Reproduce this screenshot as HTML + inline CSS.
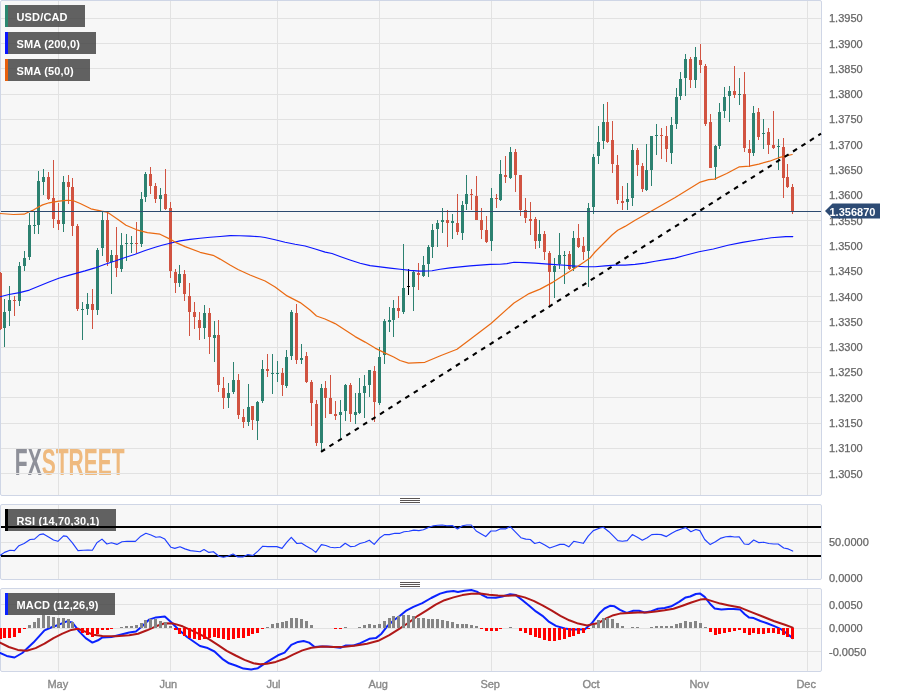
<!DOCTYPE html><html><head><meta charset="utf-8"><style>
html,body{margin:0;padding:0;background:#fff;width:898px;height:697px;overflow:hidden}
svg{display:block;will-change:transform}
text{font-family:"Liberation Sans",sans-serif}
</style></head><body>
<svg width="898" height="697" viewBox="0 0 898 697">
<rect x="0.5" y="0.5" width="821" height="495" fill="#f7f7f7" stroke="#cfd6e6" stroke-width="1" rx="1.5"/>
<text x="0" y="0" font-size="36.7" font-weight="bold" transform="translate(14.8 474.8) scale(0.573 1)" fill="#8e9099">FX<tspan fill="#efba7f">STREET</tspan></text>
<rect x="1" y="18" width="820" height="1" fill="#e2e2e2"/>
<rect x="1" y="43" width="820" height="1" fill="#e2e2e2"/>
<rect x="1" y="68" width="820" height="1" fill="#e2e2e2"/>
<rect x="1" y="94" width="820" height="1" fill="#e2e2e2"/>
<rect x="1" y="119" width="820" height="1" fill="#e2e2e2"/>
<rect x="1" y="144" width="820" height="1" fill="#e2e2e2"/>
<rect x="1" y="170" width="820" height="1" fill="#e2e2e2"/>
<rect x="1" y="195" width="820" height="1" fill="#e2e2e2"/>
<rect x="1" y="220" width="820" height="1" fill="#e2e2e2"/>
<rect x="1" y="245" width="820" height="1" fill="#e2e2e2"/>
<rect x="1" y="271" width="820" height="1" fill="#e2e2e2"/>
<rect x="1" y="296" width="820" height="1" fill="#e2e2e2"/>
<rect x="1" y="321" width="820" height="1" fill="#e2e2e2"/>
<rect x="1" y="347" width="820" height="1" fill="#e2e2e2"/>
<rect x="1" y="372" width="820" height="1" fill="#e2e2e2"/>
<rect x="1" y="397" width="820" height="1" fill="#e2e2e2"/>
<rect x="1" y="423" width="820" height="1" fill="#e2e2e2"/>
<rect x="1" y="448" width="820" height="1" fill="#e2e2e2"/>
<rect x="1" y="473" width="820" height="1" fill="#e2e2e2"/>
<rect x="58" y="1" width="1" height="494" fill="#e2e2e2"/>
<rect x="170" y="1" width="1" height="494" fill="#e2e2e2"/>
<rect x="277" y="1" width="1" height="494" fill="#e2e2e2"/>
<rect x="379" y="1" width="1" height="494" fill="#e2e2e2"/>
<rect x="491" y="1" width="1" height="494" fill="#e2e2e2"/>
<rect x="593" y="1" width="1" height="494" fill="#e2e2e2"/>
<rect x="700" y="1" width="1" height="494" fill="#e2e2e2"/>
<rect x="807" y="1" width="1" height="494" fill="#e2e2e2"/>
<g shape-rendering="crispEdges">
<rect x="0" y="272" width="1" height="58" fill="#d15341"/>
<rect x="-1" y="273" width="3" height="56" fill="#d15341"/>
<rect x="4" y="299" width="1" height="48" fill="#2c8170"/>
<rect x="3" y="312" width="3" height="16" fill="#2c8170"/>
<rect x="9" y="286" width="1" height="40" fill="#2c8170"/>
<rect x="8" y="300" width="3" height="11" fill="#2c8170"/>
<rect x="14" y="296" width="1" height="20" fill="#d15341"/>
<rect x="13" y="300" width="3" height="1" fill="#d15341"/>
<rect x="19" y="262" width="1" height="44" fill="#2c8170"/>
<rect x="18" y="266" width="3" height="35" fill="#2c8170"/>
<rect x="24" y="251" width="1" height="20" fill="#2c8170"/>
<rect x="23" y="258" width="3" height="8" fill="#2c8170"/>
<rect x="29" y="213" width="1" height="47" fill="#2c8170"/>
<rect x="28" y="225" width="3" height="32" fill="#2c8170"/>
<rect x="34" y="212" width="1" height="22" fill="#2c8170"/>
<rect x="33" y="225" width="3" height="1" fill="#2c8170"/>
<rect x="38" y="171" width="1" height="63" fill="#2c8170"/>
<rect x="37" y="181" width="3" height="44" fill="#2c8170"/>
<rect x="43" y="169" width="1" height="26" fill="#2c8170"/>
<rect x="42" y="177" width="3" height="5" fill="#2c8170"/>
<rect x="48" y="172" width="1" height="28" fill="#d15341"/>
<rect x="47" y="177" width="3" height="22" fill="#d15341"/>
<rect x="53" y="160" width="1" height="68" fill="#d15341"/>
<rect x="52" y="198" width="3" height="21" fill="#d15341"/>
<rect x="58" y="203" width="1" height="27" fill="#d15341"/>
<rect x="57" y="220" width="3" height="4" fill="#d15341"/>
<rect x="63" y="176" width="1" height="56" fill="#2c8170"/>
<rect x="62" y="182" width="3" height="42" fill="#2c8170"/>
<rect x="68" y="175" width="1" height="29" fill="#d15341"/>
<rect x="67" y="182" width="3" height="5" fill="#d15341"/>
<rect x="72" y="178" width="1" height="58" fill="#d15341"/>
<rect x="71" y="187" width="3" height="39" fill="#d15341"/>
<rect x="77" y="224" width="1" height="87" fill="#d15341"/>
<rect x="76" y="226" width="3" height="83" fill="#d15341"/>
<rect x="82" y="302" width="1" height="38" fill="#2c8170"/>
<rect x="81" y="309" width="3" height="1" fill="#2c8170"/>
<rect x="87" y="293" width="1" height="22" fill="#2c8170"/>
<rect x="86" y="304" width="3" height="5" fill="#2c8170"/>
<rect x="92" y="289" width="1" height="40" fill="#d15341"/>
<rect x="91" y="304" width="3" height="6" fill="#d15341"/>
<rect x="97" y="248" width="1" height="67" fill="#2c8170"/>
<rect x="96" y="250" width="3" height="60" fill="#2c8170"/>
<rect x="102" y="212" width="1" height="44" fill="#2c8170"/>
<rect x="101" y="220" width="3" height="28" fill="#2c8170"/>
<rect x="107" y="213" width="1" height="53" fill="#d15341"/>
<rect x="106" y="220" width="3" height="42" fill="#d15341"/>
<rect x="111" y="250" width="1" height="44" fill="#2c8170"/>
<rect x="110" y="255" width="3" height="7" fill="#2c8170"/>
<rect x="116" y="227" width="1" height="50" fill="#d15341"/>
<rect x="115" y="255" width="3" height="13" fill="#d15341"/>
<rect x="121" y="233" width="1" height="39" fill="#2c8170"/>
<rect x="120" y="245" width="3" height="24" fill="#2c8170"/>
<rect x="126" y="234" width="1" height="27" fill="#2c8170"/>
<rect x="125" y="243" width="3" height="1" fill="#2c8170"/>
<rect x="131" y="236" width="1" height="17" fill="#2c8170"/>
<rect x="130" y="243" width="3" height="1" fill="#2c8170"/>
<rect x="136" y="222" width="1" height="31" fill="#d15341"/>
<rect x="135" y="243" width="3" height="1" fill="#d15341"/>
<rect x="141" y="192" width="1" height="55" fill="#2c8170"/>
<rect x="140" y="199" width="3" height="45" fill="#2c8170"/>
<rect x="145" y="172" width="1" height="30" fill="#2c8170"/>
<rect x="144" y="174" width="3" height="23" fill="#2c8170"/>
<rect x="150" y="167" width="1" height="27" fill="#d15341"/>
<rect x="149" y="174" width="3" height="12" fill="#d15341"/>
<rect x="155" y="183" width="1" height="20" fill="#d15341"/>
<rect x="154" y="186" width="3" height="13" fill="#d15341"/>
<rect x="160" y="188" width="1" height="23" fill="#2c8170"/>
<rect x="159" y="195" width="3" height="4" fill="#2c8170"/>
<rect x="165" y="169" width="1" height="41" fill="#d15341"/>
<rect x="164" y="194" width="3" height="15" fill="#d15341"/>
<rect x="170" y="202" width="1" height="76" fill="#d15341"/>
<rect x="169" y="208" width="3" height="63" fill="#d15341"/>
<rect x="175" y="269" width="1" height="24" fill="#d15341"/>
<rect x="174" y="272" width="3" height="11" fill="#d15341"/>
<rect x="179" y="265" width="1" height="22" fill="#2c8170"/>
<rect x="178" y="274" width="3" height="9" fill="#2c8170"/>
<rect x="184" y="270" width="1" height="31" fill="#d15341"/>
<rect x="183" y="274" width="3" height="20" fill="#d15341"/>
<rect x="189" y="283" width="1" height="53" fill="#d15341"/>
<rect x="188" y="296" width="3" height="16" fill="#d15341"/>
<rect x="194" y="302" width="1" height="27" fill="#d15341"/>
<rect x="193" y="312" width="3" height="5" fill="#d15341"/>
<rect x="199" y="312" width="1" height="28" fill="#d15341"/>
<rect x="198" y="320" width="3" height="8" fill="#d15341"/>
<rect x="204" y="305" width="1" height="34" fill="#2c8170"/>
<rect x="203" y="313" width="3" height="15" fill="#2c8170"/>
<rect x="209" y="308" width="1" height="46" fill="#d15341"/>
<rect x="208" y="313" width="3" height="24" fill="#d15341"/>
<rect x="214" y="321" width="1" height="41" fill="#2c8170"/>
<rect x="213" y="335" width="3" height="3" fill="#2c8170"/>
<rect x="218" y="320" width="1" height="72" fill="#d15341"/>
<rect x="217" y="335" width="3" height="50" fill="#d15341"/>
<rect x="223" y="377" width="1" height="32" fill="#d15341"/>
<rect x="222" y="388" width="3" height="10" fill="#d15341"/>
<rect x="228" y="383" width="1" height="25" fill="#2c8170"/>
<rect x="227" y="393" width="3" height="5" fill="#2c8170"/>
<rect x="233" y="362" width="1" height="32" fill="#2c8170"/>
<rect x="232" y="380" width="3" height="12" fill="#2c8170"/>
<rect x="238" y="374" width="1" height="45" fill="#d15341"/>
<rect x="237" y="380" width="3" height="35" fill="#d15341"/>
<rect x="243" y="409" width="1" height="19" fill="#d15341"/>
<rect x="242" y="417" width="3" height="5" fill="#d15341"/>
<rect x="248" y="384" width="1" height="42" fill="#2c8170"/>
<rect x="247" y="407" width="3" height="15" fill="#2c8170"/>
<rect x="252" y="406" width="1" height="24" fill="#d15341"/>
<rect x="251" y="406" width="3" height="14" fill="#d15341"/>
<rect x="257" y="401" width="1" height="39" fill="#2c8170"/>
<rect x="256" y="402" width="3" height="19" fill="#2c8170"/>
<rect x="262" y="360" width="1" height="43" fill="#2c8170"/>
<rect x="261" y="369" width="3" height="32" fill="#2c8170"/>
<rect x="267" y="354" width="1" height="23" fill="#d15341"/>
<rect x="266" y="369" width="3" height="2" fill="#d15341"/>
<rect x="272" y="354" width="1" height="40" fill="#2c8170"/>
<rect x="271" y="373" width="3" height="1" fill="#2c8170"/>
<rect x="277" y="361" width="1" height="21" fill="#2c8170"/>
<rect x="276" y="373" width="3" height="1" fill="#2c8170"/>
<rect x="282" y="368" width="1" height="28" fill="#d15341"/>
<rect x="281" y="373" width="3" height="12" fill="#d15341"/>
<rect x="286" y="350" width="1" height="38" fill="#2c8170"/>
<rect x="285" y="357" width="3" height="29" fill="#2c8170"/>
<rect x="291" y="310" width="1" height="50" fill="#2c8170"/>
<rect x="290" y="312" width="3" height="44" fill="#2c8170"/>
<rect x="296" y="304" width="1" height="60" fill="#d15341"/>
<rect x="295" y="313" width="3" height="47" fill="#d15341"/>
<rect x="301" y="344" width="1" height="20" fill="#2c8170"/>
<rect x="300" y="358" width="3" height="2" fill="#2c8170"/>
<rect x="306" y="352" width="1" height="31" fill="#d15341"/>
<rect x="305" y="356" width="3" height="26" fill="#d15341"/>
<rect x="311" y="380" width="1" height="46" fill="#d15341"/>
<rect x="310" y="382" width="3" height="21" fill="#d15341"/>
<rect x="316" y="400" width="1" height="46" fill="#d15341"/>
<rect x="315" y="404" width="3" height="39" fill="#d15341"/>
<rect x="321" y="384" width="1" height="68" fill="#2c8170"/>
<rect x="320" y="388" width="3" height="55" fill="#2c8170"/>
<rect x="325" y="381" width="1" height="37" fill="#d15341"/>
<rect x="324" y="388" width="3" height="10" fill="#d15341"/>
<rect x="330" y="375" width="1" height="39" fill="#d15341"/>
<rect x="329" y="398" width="3" height="16" fill="#d15341"/>
<rect x="335" y="401" width="1" height="19" fill="#d15341"/>
<rect x="334" y="414" width="3" height="2" fill="#d15341"/>
<rect x="340" y="400" width="1" height="38" fill="#2c8170"/>
<rect x="339" y="412" width="3" height="3" fill="#2c8170"/>
<rect x="345" y="384" width="1" height="37" fill="#2c8170"/>
<rect x="344" y="385" width="3" height="26" fill="#2c8170"/>
<rect x="350" y="383" width="1" height="39" fill="#d15341"/>
<rect x="349" y="385" width="3" height="29" fill="#d15341"/>
<rect x="355" y="393" width="1" height="31" fill="#2c8170"/>
<rect x="354" y="412" width="3" height="3" fill="#2c8170"/>
<rect x="359" y="378" width="1" height="36" fill="#2c8170"/>
<rect x="358" y="393" width="3" height="20" fill="#2c8170"/>
<rect x="364" y="375" width="1" height="43" fill="#2c8170"/>
<rect x="363" y="386" width="3" height="7" fill="#2c8170"/>
<rect x="369" y="370" width="1" height="27" fill="#2c8170"/>
<rect x="368" y="370" width="3" height="15" fill="#2c8170"/>
<rect x="374" y="366" width="1" height="56" fill="#d15341"/>
<rect x="373" y="371" width="3" height="31" fill="#d15341"/>
<rect x="379" y="347" width="1" height="58" fill="#2c8170"/>
<rect x="378" y="357" width="3" height="46" fill="#2c8170"/>
<rect x="384" y="319" width="1" height="45" fill="#2c8170"/>
<rect x="383" y="321" width="3" height="34" fill="#2c8170"/>
<rect x="389" y="307" width="1" height="25" fill="#2c8170"/>
<rect x="388" y="320" width="3" height="2" fill="#2c8170"/>
<rect x="393" y="300" width="1" height="37" fill="#2c8170"/>
<rect x="392" y="308" width="3" height="12" fill="#2c8170"/>
<rect x="398" y="296" width="1" height="22" fill="#d15341"/>
<rect x="397" y="308" width="3" height="3" fill="#d15341"/>
<rect x="403" y="244" width="1" height="70" fill="#2c8170"/>
<rect x="402" y="288" width="3" height="24" fill="#2c8170"/>
<rect x="408" y="269" width="1" height="26" fill="#000000"/>
<rect x="407" y="286" width="3" height="1" fill="#000000"/>
<rect x="413" y="271" width="1" height="40" fill="#2c8170"/>
<rect x="412" y="272" width="3" height="15" fill="#2c8170"/>
<rect x="418" y="263" width="1" height="27" fill="#d15341"/>
<rect x="417" y="273" width="3" height="2" fill="#d15341"/>
<rect x="423" y="256" width="1" height="21" fill="#2c8170"/>
<rect x="422" y="265" width="3" height="11" fill="#2c8170"/>
<rect x="428" y="245" width="1" height="32" fill="#2c8170"/>
<rect x="427" y="247" width="3" height="17" fill="#2c8170"/>
<rect x="432" y="224" width="1" height="34" fill="#2c8170"/>
<rect x="431" y="230" width="3" height="17" fill="#2c8170"/>
<rect x="437" y="220" width="1" height="27" fill="#2c8170"/>
<rect x="436" y="223" width="3" height="6" fill="#2c8170"/>
<rect x="442" y="208" width="1" height="25" fill="#2c8170"/>
<rect x="441" y="220" width="3" height="2" fill="#2c8170"/>
<rect x="447" y="210" width="1" height="37" fill="#d15341"/>
<rect x="446" y="220" width="3" height="3" fill="#d15341"/>
<rect x="452" y="214" width="1" height="25" fill="#2c8170"/>
<rect x="451" y="221" width="3" height="2" fill="#2c8170"/>
<rect x="457" y="194" width="1" height="41" fill="#d15341"/>
<rect x="456" y="223" width="3" height="9" fill="#d15341"/>
<rect x="462" y="201" width="1" height="39" fill="#2c8170"/>
<rect x="461" y="205" width="3" height="28" fill="#2c8170"/>
<rect x="466" y="175" width="1" height="35" fill="#2c8170"/>
<rect x="465" y="194" width="3" height="10" fill="#2c8170"/>
<rect x="471" y="189" width="1" height="21" fill="#d15341"/>
<rect x="470" y="194" width="3" height="1" fill="#d15341"/>
<rect x="476" y="176" width="1" height="44" fill="#d15341"/>
<rect x="475" y="196" width="3" height="24" fill="#d15341"/>
<rect x="481" y="208" width="1" height="31" fill="#d15341"/>
<rect x="480" y="220" width="3" height="10" fill="#d15341"/>
<rect x="486" y="216" width="1" height="27" fill="#d15341"/>
<rect x="485" y="230" width="3" height="12" fill="#d15341"/>
<rect x="491" y="188" width="1" height="63" fill="#2c8170"/>
<rect x="490" y="198" width="3" height="43" fill="#2c8170"/>
<rect x="496" y="194" width="1" height="14" fill="#d15341"/>
<rect x="495" y="198" width="3" height="1" fill="#d15341"/>
<rect x="500" y="160" width="1" height="41" fill="#2c8170"/>
<rect x="499" y="174" width="3" height="26" fill="#2c8170"/>
<rect x="505" y="156" width="1" height="27" fill="#d15341"/>
<rect x="504" y="175" width="3" height="2" fill="#d15341"/>
<rect x="510" y="147" width="1" height="32" fill="#2c8170"/>
<rect x="509" y="152" width="3" height="26" fill="#2c8170"/>
<rect x="515" y="149" width="1" height="43" fill="#d15341"/>
<rect x="514" y="152" width="3" height="23" fill="#d15341"/>
<rect x="520" y="175" width="1" height="41" fill="#d15341"/>
<rect x="519" y="175" width="3" height="35" fill="#d15341"/>
<rect x="525" y="198" width="1" height="25" fill="#d15341"/>
<rect x="524" y="210" width="3" height="8" fill="#d15341"/>
<rect x="530" y="202" width="1" height="33" fill="#d15341"/>
<rect x="529" y="219" width="3" height="2" fill="#d15341"/>
<rect x="535" y="217" width="1" height="32" fill="#d15341"/>
<rect x="534" y="219" width="3" height="22" fill="#d15341"/>
<rect x="539" y="220" width="1" height="28" fill="#2c8170"/>
<rect x="538" y="234" width="3" height="7" fill="#2c8170"/>
<rect x="544" y="231" width="1" height="29" fill="#d15341"/>
<rect x="543" y="234" width="3" height="18" fill="#d15341"/>
<rect x="549" y="251" width="1" height="56" fill="#d15341"/>
<rect x="548" y="253" width="3" height="19" fill="#d15341"/>
<rect x="554" y="258" width="1" height="40" fill="#2c8170"/>
<rect x="553" y="266" width="3" height="6" fill="#2c8170"/>
<rect x="559" y="233" width="1" height="36" fill="#2c8170"/>
<rect x="558" y="255" width="3" height="9" fill="#2c8170"/>
<rect x="564" y="251" width="1" height="33" fill="#2c8170"/>
<rect x="563" y="255" width="3" height="1" fill="#2c8170"/>
<rect x="569" y="251" width="1" height="19" fill="#d15341"/>
<rect x="568" y="254" width="3" height="15" fill="#d15341"/>
<rect x="573" y="231" width="1" height="40" fill="#2c8170"/>
<rect x="572" y="238" width="3" height="30" fill="#2c8170"/>
<rect x="578" y="224" width="1" height="24" fill="#d15341"/>
<rect x="577" y="238" width="3" height="9" fill="#d15341"/>
<rect x="583" y="237" width="1" height="23" fill="#d15341"/>
<rect x="582" y="246" width="3" height="6" fill="#d15341"/>
<rect x="588" y="203" width="1" height="84" fill="#2c8170"/>
<rect x="587" y="208" width="3" height="43" fill="#2c8170"/>
<rect x="593" y="154" width="1" height="60" fill="#2c8170"/>
<rect x="592" y="157" width="3" height="50" fill="#2c8170"/>
<rect x="598" y="126" width="1" height="38" fill="#2c8170"/>
<rect x="597" y="142" width="3" height="14" fill="#2c8170"/>
<rect x="603" y="104" width="1" height="45" fill="#2c8170"/>
<rect x="602" y="122" width="3" height="19" fill="#2c8170"/>
<rect x="607" y="102" width="1" height="41" fill="#d15341"/>
<rect x="606" y="122" width="3" height="20" fill="#d15341"/>
<rect x="612" y="121" width="1" height="52" fill="#d15341"/>
<rect x="611" y="140" width="3" height="24" fill="#d15341"/>
<rect x="617" y="155" width="1" height="49" fill="#d15341"/>
<rect x="616" y="165" width="3" height="35" fill="#d15341"/>
<rect x="622" y="186" width="1" height="24" fill="#d15341"/>
<rect x="621" y="201" width="3" height="2" fill="#d15341"/>
<rect x="627" y="183" width="1" height="27" fill="#2c8170"/>
<rect x="626" y="199" width="3" height="3" fill="#2c8170"/>
<rect x="632" y="144" width="1" height="62" fill="#2c8170"/>
<rect x="631" y="150" width="3" height="48" fill="#2c8170"/>
<rect x="637" y="148" width="1" height="28" fill="#d15341"/>
<rect x="636" y="150" width="3" height="15" fill="#d15341"/>
<rect x="642" y="163" width="1" height="29" fill="#d15341"/>
<rect x="641" y="166" width="3" height="23" fill="#d15341"/>
<rect x="646" y="144" width="1" height="47" fill="#2c8170"/>
<rect x="645" y="170" width="3" height="20" fill="#2c8170"/>
<rect x="651" y="136" width="1" height="50" fill="#2c8170"/>
<rect x="650" y="136" width="3" height="34" fill="#2c8170"/>
<rect x="656" y="124" width="1" height="31" fill="#2c8170"/>
<rect x="655" y="135" width="3" height="1" fill="#2c8170"/>
<rect x="661" y="128" width="1" height="31" fill="#d15341"/>
<rect x="660" y="135" width="3" height="1" fill="#d15341"/>
<rect x="666" y="126" width="1" height="36" fill="#d15341"/>
<rect x="665" y="136" width="3" height="13" fill="#d15341"/>
<rect x="671" y="117" width="1" height="47" fill="#2c8170"/>
<rect x="670" y="125" width="3" height="28" fill="#2c8170"/>
<rect x="676" y="88" width="1" height="41" fill="#2c8170"/>
<rect x="675" y="97" width="3" height="27" fill="#2c8170"/>
<rect x="680" y="72" width="1" height="28" fill="#2c8170"/>
<rect x="679" y="79" width="3" height="17" fill="#2c8170"/>
<rect x="685" y="54" width="1" height="42" fill="#2c8170"/>
<rect x="684" y="59" width="3" height="19" fill="#2c8170"/>
<rect x="690" y="57" width="1" height="31" fill="#d15341"/>
<rect x="689" y="59" width="3" height="21" fill="#d15341"/>
<rect x="695" y="47" width="1" height="41" fill="#2c8170"/>
<rect x="694" y="57" width="3" height="23" fill="#2c8170"/>
<rect x="700" y="44" width="1" height="29" fill="#d15341"/>
<rect x="699" y="60" width="3" height="5" fill="#d15341"/>
<rect x="705" y="64" width="1" height="62" fill="#d15341"/>
<rect x="704" y="66" width="3" height="58" fill="#d15341"/>
<rect x="710" y="114" width="1" height="54" fill="#d15341"/>
<rect x="709" y="122" width="3" height="46" fill="#d15341"/>
<rect x="715" y="145" width="1" height="35" fill="#2c8170"/>
<rect x="714" y="146" width="3" height="21" fill="#2c8170"/>
<rect x="719" y="103" width="1" height="46" fill="#2c8170"/>
<rect x="718" y="112" width="3" height="34" fill="#2c8170"/>
<rect x="724" y="87" width="1" height="31" fill="#2c8170"/>
<rect x="723" y="97" width="3" height="14" fill="#2c8170"/>
<rect x="729" y="86" width="1" height="36" fill="#2c8170"/>
<rect x="728" y="91" width="3" height="5" fill="#2c8170"/>
<rect x="734" y="66" width="1" height="32" fill="#d15341"/>
<rect x="733" y="91" width="3" height="4" fill="#d15341"/>
<rect x="739" y="78" width="1" height="27" fill="#2c8170"/>
<rect x="738" y="94" width="3" height="1" fill="#2c8170"/>
<rect x="744" y="72" width="1" height="80" fill="#d15341"/>
<rect x="743" y="94" width="3" height="54" fill="#d15341"/>
<rect x="749" y="140" width="1" height="27" fill="#d15341"/>
<rect x="748" y="149" width="3" height="4" fill="#d15341"/>
<rect x="753" y="106" width="1" height="50" fill="#2c8170"/>
<rect x="752" y="113" width="3" height="40" fill="#2c8170"/>
<rect x="758" y="108" width="1" height="32" fill="#d15341"/>
<rect x="757" y="112" width="3" height="25" fill="#d15341"/>
<rect x="763" y="119" width="1" height="30" fill="#2c8170"/>
<rect x="762" y="133" width="3" height="1" fill="#2c8170"/>
<rect x="768" y="128" width="1" height="26" fill="#d15341"/>
<rect x="767" y="132" width="3" height="13" fill="#d15341"/>
<rect x="773" y="111" width="1" height="38" fill="#d15341"/>
<rect x="772" y="145" width="3" height="3" fill="#d15341"/>
<rect x="778" y="139" width="1" height="31" fill="#2c8170"/>
<rect x="777" y="146" width="3" height="1" fill="#2c8170"/>
<rect x="783" y="138" width="1" height="60" fill="#d15341"/>
<rect x="782" y="147" width="3" height="31" fill="#d15341"/>
<rect x="787" y="164" width="1" height="24" fill="#d15341"/>
<rect x="786" y="177" width="3" height="10" fill="#d15341"/>
<rect x="792" y="184" width="1" height="30" fill="#d15341"/>
<rect x="791" y="187" width="3" height="24" fill="#d15341"/>
</g>
<polyline points="0.0,296.8 8.9,294.5 19.6,292.6 29.4,290.1 39.2,286.1 49.0,282.1 58.8,278.3 68.6,275.4 75.0,273.6 85.0,270.9 95.0,267.9 105.1,264.3 115.1,261.1 125.1,257.6 135.1,254.3 145.2,250.5 155.2,247.3 162.0,245.2 170.0,243.2 180.0,240.9 190.1,239.4 200.1,238.3 210.1,237.2 220.1,236.5 230.2,235.6 240.0,235.8 250.0,236.1 260.0,236.8 265.0,237.5 275.1,239.8 285.1,242.2 295.1,244.3 305.1,246.0 315.2,249.0 325.2,252.1 332.0,253.5 340.0,256.5 350.0,260.0 360.1,263.3 370.1,265.6 378.1,266.6 390.1,268.1 400.2,269.3 410.2,270.4 420.0,271.1 432.0,270.7 440.1,269.3 450.1,267.9 460.1,266.9 470.1,265.9 480.1,265.1 490.2,264.4 500.0,264.2 507.0,263.6 514.0,262.3 525.1,262.6 535.1,263.1 545.1,263.9 555.1,264.6 565.1,265.3 575.2,266.1 585.2,266.8 595.0,266.7 605.0,265.9 615.1,265.1 625.1,265.1 635.1,264.4 645.1,263.1 655.2,261.3 665.2,259.6 675.0,258.1 684.5,255.5 699.0,251.8 713.4,249.0 727.9,245.3 742.4,242.4 756.9,240.0 771.3,237.7 785.8,236.6 792.8,236.6" fill="none" stroke="#0a14ff" stroke-width="1.1" stroke-linejoin="round" stroke-linecap="round" />
<polyline points="0.0,213.5 13.4,214.5 24.1,214.2 29.7,211.5 33.4,210.1 38.1,207.3 42.6,204.9 49.1,202.8 58.8,201.1 66.8,200.4 72.8,200.5 80.2,203.5 90.9,208.8 101.6,211.2 106.9,212.1 110.0,214.1 118.0,219.5 126.0,225.3 136.7,229.8 147.4,232.6 160.0,234.2 170.0,239.1 175.0,242.1 185.1,246.6 200.1,252.3 213.1,255.3 220.1,259.1 230.0,265.0 238.0,269.5 250.0,275.0 265.1,281.0 275.1,286.9 287.1,295.9 300.2,302.6 310.0,310.0 316.5,316.0 325.0,319.0 335.1,323.6 345.1,330.1 355.1,336.6 365.1,342.1 375.1,348.1 385.2,353.1 393.7,357.0 400.0,360.5 408.5,363.1 424.9,362.3 441.0,355.5 457.0,349.3 471.3,338.6 491.0,323.5 514.0,303.0 529.1,293.6 540.1,289.1 553.1,282.1 564.1,275.1 575.2,268.1 584.2,262.1 590.0,258.0 595.0,252.0 605.0,242.0 612.0,235.0 617.7,230.2 625.0,226.4 635.1,220.2 651.1,211.2 675.2,197.4 700.3,182.1 708.6,179.7 714.4,179.1 726.7,173.5 739.4,166.8 749.4,166.2 758.8,164.1 769.5,161.2 778.8,157.7 792.2,154.5" fill="none" stroke="#ea6a12" stroke-width="1.2" stroke-linejoin="round" stroke-linecap="round" />
<line x1="321.0" y1="451.8" x2="821.0" y2="133.7" stroke="#000" stroke-width="2.1" stroke-dasharray="4.75 5.24"/>
<rect x="1" y="211" width="820" height="1" fill="#2c4a70"/>
<rect x="5" y="5" width="80" height="22" fill="rgba(66,66,66,0.83)"/>
<rect x="5" y="5" width="3" height="22" fill="#2b8770"/>
<text x="16.5" y="20.5" font-size="11" font-weight="bold" fill="#ffffff" letter-spacing="0.15">USD/CAD</text>
<rect x="5" y="32" width="91" height="22" fill="rgba(66,66,66,0.83)"/>
<rect x="5" y="32" width="3" height="22" fill="#0a14ff"/>
<text x="16.5" y="47.5" font-size="11" font-weight="bold" fill="#ffffff" letter-spacing="0.15">SMA (200,0)</text>
<rect x="5" y="59" width="85" height="22" fill="rgba(66,66,66,0.83)"/>
<rect x="5" y="59" width="3" height="22" fill="#e8600c"/>
<text x="16.5" y="74.5" font-size="11" font-weight="bold" fill="#ffffff" letter-spacing="0.15">SMA (50,0)</text>
<text x="829" y="22" font-size="11" fill="#666666" stroke="#666666" stroke-width="0.25">1.3950</text>
<text x="829" y="48" font-size="11" fill="#666666" stroke="#666666" stroke-width="0.25">1.3900</text>
<text x="829" y="73" font-size="11" fill="#666666" stroke="#666666" stroke-width="0.25">1.3850</text>
<text x="829" y="98" font-size="11" fill="#666666" stroke="#666666" stroke-width="0.25">1.3800</text>
<text x="829" y="123" font-size="11" fill="#666666" stroke="#666666" stroke-width="0.25">1.3750</text>
<text x="829" y="149" font-size="11" fill="#666666" stroke="#666666" stroke-width="0.25">1.3700</text>
<text x="829" y="174" font-size="11" fill="#666666" stroke="#666666" stroke-width="0.25">1.3650</text>
<text x="829" y="199" font-size="11" fill="#666666" stroke="#666666" stroke-width="0.25">1.3600</text>
<text x="829" y="225" font-size="11" fill="#666666" stroke="#666666" stroke-width="0.25">1.3550</text>
<text x="829" y="250" font-size="11" fill="#666666" stroke="#666666" stroke-width="0.25">1.3500</text>
<text x="829" y="275" font-size="11" fill="#666666" stroke="#666666" stroke-width="0.25">1.3450</text>
<text x="829" y="301" font-size="11" fill="#666666" stroke="#666666" stroke-width="0.25">1.3400</text>
<text x="829" y="326" font-size="11" fill="#666666" stroke="#666666" stroke-width="0.25">1.3350</text>
<text x="829" y="351" font-size="11" fill="#666666" stroke="#666666" stroke-width="0.25">1.3300</text>
<text x="829" y="376" font-size="11" fill="#666666" stroke="#666666" stroke-width="0.25">1.3250</text>
<text x="829" y="402" font-size="11" fill="#666666" stroke="#666666" stroke-width="0.25">1.3200</text>
<text x="829" y="427" font-size="11" fill="#666666" stroke="#666666" stroke-width="0.25">1.3150</text>
<text x="829" y="452" font-size="11" fill="#666666" stroke="#666666" stroke-width="0.25">1.3100</text>
<text x="829" y="478" font-size="11" fill="#666666" stroke="#666666" stroke-width="0.25">1.3050</text>
<polygon points="825,211 832.5,203.5 880,203.5 880,218.5 832.5,218.5" fill="#2d4b74"/>
<text x="829.5" y="215.5" font-size="11" font-weight="bold" fill="#ffffff">1.356870</text>
<rect x="400" y="498" width="20" height="1" fill="#5a5555"/>
<rect x="400" y="500" width="20" height="1" fill="#5a5555"/>
<rect x="400" y="502" width="20" height="1" fill="#5a5555"/>
<rect x="400" y="582" width="20" height="1" fill="#5a5555"/>
<rect x="400" y="584" width="20" height="1" fill="#5a5555"/>
<rect x="400" y="586" width="20" height="1" fill="#5a5555"/>
<rect x="0.5" y="504.5" width="821" height="75" fill="#f7f7f7" stroke="#cfd6e6" stroke-width="1" rx="1.5"/>
<rect x="1" y="542" width="820" height="1" fill="#e2e2e2"/>
<rect x="58" y="505" width="1" height="74" fill="#e2e2e2"/>
<rect x="170" y="505" width="1" height="74" fill="#e2e2e2"/>
<rect x="277" y="505" width="1" height="74" fill="#e2e2e2"/>
<rect x="379" y="505" width="1" height="74" fill="#e2e2e2"/>
<rect x="491" y="505" width="1" height="74" fill="#e2e2e2"/>
<rect x="593" y="505" width="1" height="74" fill="#e2e2e2"/>
<rect x="700" y="505" width="1" height="74" fill="#e2e2e2"/>
<rect x="807" y="505" width="1" height="74" fill="#e2e2e2"/>
<rect x="5" y="509" width="111" height="22" fill="rgba(66,66,66,0.83)"/>
<rect x="5" y="509" width="3" height="22" fill="#000000"/>
<text x="16.5" y="524.5" font-size="11" font-weight="bold" fill="#ffffff" letter-spacing="0.15">RSI (14,70,30,1)</text>
<rect x="1" y="526" width="820" height="2" fill="#000000"/>
<rect x="1" y="555" width="820" height="2" fill="#000000"/>
<polyline points="0.0,555.5 4.5,552.4 10.0,550.2 14.5,550.6 18.9,545.7 24.1,543.5 30.1,539.5 34.5,539.1 39.6,534.6 43.4,533.9 49.0,537.3 53.5,540.0 57.9,541.3 63.5,535.9 66.8,536.4 72.4,542.8 78.0,550.6 83.5,550.2 88.0,550.0 92.4,550.2 96.9,542.8 102.0,539.1 106.9,544.0 111.4,542.8 116.9,544.4 122.0,541.7 127.0,541.3 135.4,541.3 140.8,536.2 145.9,533.3 151.0,535.0 155.9,537.3 159.9,536.8 164.8,539.1 171.0,547.3 174.8,548.4 180.0,546.8 184.9,548.9 190.4,550.6 200.0,551.7 204.0,549.5 208.9,552.4 213.4,551.7 218.9,556.2 223.4,557.3 227.8,556.2 233.0,554.0 237.9,556.9 242.8,556.9 247.9,554.6 253.0,555.5 257.9,551.1 262.8,546.2 267.9,546.6 276.8,546.6 282.0,548.4 286.9,542.2 291.3,537.3 296.9,543.5 301.3,543.1 306.5,546.2 311.4,548.9 315.8,552.4 321.4,544.6 325.8,545.5 330.3,547.3 334.7,547.7 340.3,547.3 345.2,543.3 350.3,546.6 354.8,546.2 359.9,543.5 364.8,542.2 369.3,540.2 374.2,544.4 380.0,537.7 384.4,534.6 389.3,534.6 394.9,533.3 400.0,533.3 404.0,531.7 408.9,531.3 413.8,530.1 418.9,530.6 423.4,529.7 429.0,527.2 433.4,525.7 437.9,525.2 442.3,525.0 446.8,525.7 452.3,525.5 457.5,529.0 462.4,525.7 466.8,525.0 471.3,525.0 476.2,531.0 481.3,533.9 485.7,536.6 490.9,531.0 495.8,531.0 500.7,528.8 505.8,528.8 510.2,526.6 515.8,532.4 520.9,537.7 525.8,539.1 530.3,539.5 534.7,543.5 539.6,542.2 544.8,545.1 549.7,548.0 554.8,546.2 559.9,544.4 564.4,544.4 568.8,546.8 573.7,541.3 578.2,542.2 583.3,543.3 588.2,536.2 593.3,530.6 600.0,528.0 603.3,527.2 608.9,531.7 613.4,536.2 617.8,540.6 622.3,541.3 627.2,540.6 632.3,534.6 637.4,537.3 642.3,540.2 647.2,537.7 651.7,534.6 656.8,534.2 661.2,534.6 666.4,536.6 671.7,533.3 676.8,530.6 681.3,529.0 685.7,527.5 690.9,531.7 695.8,529.5 699.8,530.6 704.7,539.5 710.2,544.6 715.4,541.7 720.3,538.4 725.8,536.8 730.3,536.4 734.7,537.0 739.2,536.8 744.3,544.0 748.8,544.4 753.7,540.0 758.6,542.6 763.7,542.2 768.8,543.5 773.7,544.0 778.2,544.0 783.7,548.0 788.2,548.9 792.7,551.1" fill="none" stroke="#1f3fff" stroke-width="1.15" stroke-linejoin="round" stroke-linecap="round" />
<text x="829" y="546" font-size="11" fill="#666666" stroke="#666666" stroke-width="0.25">50.0000</text>
<text x="829" y="582" font-size="11" fill="#666666" stroke="#666666" stroke-width="0.25">0.0000</text>
<rect x="0.5" y="588.5" width="821" height="83" fill="#f7f7f7" stroke="#cfd6e6" stroke-width="1" rx="1.5"/>
<rect x="1" y="604" width="820" height="1" fill="#e2e2e2"/>
<rect x="1" y="628" width="820" height="1" fill="#e2e2e2"/>
<rect x="1" y="651" width="820" height="1" fill="#e2e2e2"/>
<rect x="58" y="589" width="1" height="82" fill="#e2e2e2"/>
<rect x="170" y="589" width="1" height="82" fill="#e2e2e2"/>
<rect x="277" y="589" width="1" height="82" fill="#e2e2e2"/>
<rect x="379" y="589" width="1" height="82" fill="#e2e2e2"/>
<rect x="491" y="589" width="1" height="82" fill="#e2e2e2"/>
<rect x="593" y="589" width="1" height="82" fill="#e2e2e2"/>
<rect x="700" y="589" width="1" height="82" fill="#e2e2e2"/>
<rect x="807" y="589" width="1" height="82" fill="#e2e2e2"/>
<polyline points="0.0,653.0 6.7,655.9 14.5,657.5 22.3,653.0 33.4,642.6 44.5,630.3 52.3,627.0 59.0,624.7 66.8,621.4 72.4,622.5 79.1,631.4 85.7,638.1 92.4,642.6 98.0,640.3 102.4,637.4 111.4,637.0 120.3,634.8 129.2,632.5 135.9,631.4 142.5,625.9 149.2,619.6 155.9,617.4 164.8,616.5 171.5,622.5 178.2,629.2 187.1,637.0 200.0,646.0 206.7,647.7 214.5,651.5 222.3,658.8 229.0,663.3 235.6,665.5 243.4,668.6 251.2,669.5 257.9,668.2 264.6,663.7 271.3,659.3 278.0,655.3 284.6,652.6 291.3,644.8 298.0,641.9 303.6,641.0 309.1,642.6 314.7,647.0 320.3,646.4 327.0,646.4 333.6,647.0 340.3,647.7 345.9,645.5 353.7,645.5 360.4,643.2 369.3,638.8 375.9,638.1 381.5,633.7 387.1,626.3 393.8,620.3 400.0,615.8 406.7,610.3 413.4,606.9 422.3,603.1 431.2,598.0 440.1,593.6 446.8,591.8 453.5,591.1 457.9,592.0 464.6,590.7 471.3,590.0 476.8,591.6 482.4,595.1 486.9,597.4 495.8,597.8 502.4,596.5 510.2,594.2 515.8,595.1 522.5,600.2 529.2,605.8 535.9,611.4 542.5,615.8 549.2,621.9 555.9,625.9 564.8,628.5 571.5,629.4 578.2,629.4 584.9,629.2 591.5,623.6 600.0,612.7 604.5,608.5 610.0,605.8 614.5,606.3 620.0,609.8 626.7,612.9 633.4,610.7 639.0,610.7 644.5,612.5 650.1,611.6 657.9,608.7 664.6,608.0 671.3,606.3 679.1,601.8 685.7,597.4 690.2,596.5 695.8,594.0 700.2,593.6 704.7,596.9 710.2,604.0 714.7,608.5 721.4,609.6 728.1,608.9 733.6,608.9 739.9,609.4 744.8,614.3 749.2,617.6 753.7,618.1 760.4,621.0 767.0,623.2 773.7,625.9 780.4,628.8 787.1,633.7 792.7,638.1" fill="none" stroke="#0a22ff" stroke-width="2.0" stroke-linejoin="round" stroke-linecap="round" />
<polyline points="0.0,642.6 8.9,647.0 17.8,649.9 26.7,650.8 35.6,648.1 44.5,643.7 53.5,638.1 62.4,633.7 71.3,629.9 78.0,628.8 84.6,631.4 93.5,634.8 102.4,635.9 115.8,636.3 129.2,635.2 138.1,633.7 147.0,630.3 155.9,626.3 164.8,623.2 173.7,623.6 182.6,626.3 191.5,630.3 200.0,634.3 208.9,639.2 217.8,644.8 226.7,650.8 235.6,655.5 244.5,659.9 253.5,663.3 260.1,664.2 266.8,663.7 275.7,661.9 284.6,658.8 293.5,654.4 302.4,650.4 311.4,647.7 322.5,646.6 333.6,647.0 344.8,646.8 355.9,645.5 367.0,643.7 378.2,640.8 389.3,635.2 400.0,628.3 408.9,622.5 417.8,615.8 426.7,610.3 435.6,604.7 444.5,600.2 453.5,597.4 462.4,595.1 471.3,593.8 480.2,593.6 489.1,594.7 498.0,595.6 506.9,595.8 515.8,595.3 524.7,597.4 533.6,600.9 542.5,605.4 551.4,610.3 560.4,615.8 569.3,620.3 578.2,623.6 587.1,625.4 596.0,623.6 600.0,622.2 606.7,618.1 613.4,615.2 620.0,613.6 629.0,612.9 637.9,612.5 646.8,612.5 655.7,611.4 664.6,610.3 673.5,608.7 682.4,605.8 691.3,602.5 700.2,599.6 705.8,599.1 711.4,600.9 720.3,603.6 729.2,605.4 740.3,607.6 751.4,612.1 762.6,616.5 773.7,621.0 784.9,624.7 792.7,627.6" fill="none" stroke="#b01818" stroke-width="2.0" stroke-linejoin="round" stroke-linecap="round" />
<rect x="5" y="593" width="110" height="22" fill="rgba(66,66,66,0.83)"/>
<rect x="5" y="593" width="3" height="22" fill="#0a22ff"/>
<text x="16.5" y="608.5" font-size="11" font-weight="bold" fill="#ffffff" letter-spacing="0.15">MACD (12,26,9)</text>
<g shape-rendering="crispEdges">
<rect x="0" y="628.3" width="2" height="10.4" fill="#ff0000"/>
<rect x="3" y="628.3" width="3" height="10.1" fill="#ff0000"/>
<rect x="8" y="628.3" width="3" height="9.3" fill="#ff0000"/>
<rect x="13" y="628.3" width="3" height="8.6" fill="#ff0000"/>
<rect x="18" y="628.3" width="3" height="4.6" fill="#ff0000"/>
<rect x="23" y="628.3" width="3" height="0.6" fill="#ff0000"/>
<rect x="28" y="624.8" width="3" height="3.5" fill="#858585"/>
<rect x="33" y="621.6" width="3" height="6.7" fill="#858585"/>
<rect x="37" y="618.3" width="3" height="10.0" fill="#858585"/>
<rect x="42" y="615.3" width="3" height="13.0" fill="#858585"/>
<rect x="47" y="615.7" width="3" height="12.6" fill="#858585"/>
<rect x="52" y="616.8" width="3" height="11.5" fill="#858585"/>
<rect x="57" y="617.5" width="3" height="10.8" fill="#858585"/>
<rect x="62" y="617.9" width="3" height="10.4" fill="#858585"/>
<rect x="67" y="618.7" width="3" height="9.6" fill="#858585"/>
<rect x="71" y="621.9" width="3" height="6.4" fill="#858585"/>
<rect x="76" y="628.3" width="3" height="0.9" fill="#ff0000"/>
<rect x="81" y="628.3" width="3" height="4.4" fill="#ff0000"/>
<rect x="86" y="628.3" width="3" height="6.8" fill="#ff0000"/>
<rect x="91" y="628.3" width="3" height="8.2" fill="#ff0000"/>
<rect x="96" y="628.3" width="3" height="5.3" fill="#ff0000"/>
<rect x="101" y="628.3" width="3" height="1.7" fill="#ff0000"/>
<rect x="106" y="628.3" width="3" height="1.2" fill="#ff0000"/>
<rect x="110" y="628.3" width="3" height="0.7" fill="#ff0000"/>
<rect x="115" y="627.7" width="3" height="0.6" fill="#858585"/>
<rect x="120" y="626.9" width="3" height="1.4" fill="#858585"/>
<rect x="125" y="626.1" width="3" height="2.2" fill="#858585"/>
<rect x="130" y="625.6" width="3" height="2.7" fill="#858585"/>
<rect x="135" y="625.4" width="3" height="2.9" fill="#858585"/>
<rect x="140" y="622.8" width="3" height="5.5" fill="#858585"/>
<rect x="144" y="620.3" width="3" height="8.0" fill="#858585"/>
<rect x="149" y="618.8" width="3" height="9.5" fill="#858585"/>
<rect x="154" y="619.4" width="3" height="8.9" fill="#858585"/>
<rect x="159" y="620.5" width="3" height="7.8" fill="#858585"/>
<rect x="164" y="622.1" width="3" height="6.2" fill="#858585"/>
<rect x="169" y="626.2" width="3" height="2.1" fill="#858585"/>
<rect x="174" y="628.3" width="3" height="2.1" fill="#ff0000"/>
<rect x="178" y="628.3" width="3" height="5.2" fill="#ff0000"/>
<rect x="183" y="628.3" width="3" height="7.7" fill="#ff0000"/>
<rect x="188" y="628.3" width="3" height="9.3" fill="#ff0000"/>
<rect x="193" y="628.3" width="3" height="10.5" fill="#ff0000"/>
<rect x="198" y="628.3" width="3" height="11.6" fill="#ff0000"/>
<rect x="203" y="628.3" width="3" height="10.4" fill="#ff0000"/>
<rect x="208" y="628.3" width="3" height="9.5" fill="#ff0000"/>
<rect x="213" y="628.3" width="3" height="8.8" fill="#ff0000"/>
<rect x="217" y="628.3" width="3" height="10.1" fill="#ff0000"/>
<rect x="222" y="628.3" width="3" height="11.0" fill="#ff0000"/>
<rect x="227" y="628.3" width="3" height="11.2" fill="#ff0000"/>
<rect x="232" y="628.3" width="3" height="10.4" fill="#ff0000"/>
<rect x="237" y="628.3" width="3" height="9.7" fill="#ff0000"/>
<rect x="242" y="628.3" width="3" height="9.3" fill="#ff0000"/>
<rect x="247" y="628.3" width="3" height="7.9" fill="#ff0000"/>
<rect x="251" y="628.3" width="3" height="6.1" fill="#ff0000"/>
<rect x="256" y="628.3" width="3" height="4.3" fill="#ff0000"/>
<rect x="261" y="628.3" width="3" height="1.0" fill="#ff0000"/>
<rect x="266" y="626.5" width="3" height="1.8" fill="#858585"/>
<rect x="271" y="624.4" width="3" height="3.9" fill="#858585"/>
<rect x="276" y="622.7" width="3" height="5.6" fill="#858585"/>
<rect x="281" y="622.3" width="3" height="6.0" fill="#858585"/>
<rect x="285" y="620.5" width="3" height="7.8" fill="#858585"/>
<rect x="290" y="617.6" width="3" height="10.7" fill="#858585"/>
<rect x="295" y="617.8" width="3" height="10.5" fill="#858585"/>
<rect x="300" y="618.9" width="3" height="9.4" fill="#858585"/>
<rect x="305" y="620.9" width="3" height="7.4" fill="#858585"/>
<rect x="310" y="624.9" width="3" height="3.4" fill="#858585"/>
<rect x="315" y="627.7" width="3" height="0.6" fill="#858585"/>
<rect x="320" y="627.7" width="3" height="0.6" fill="#858585"/>
<rect x="324" y="627.7" width="3" height="0.6" fill="#858585"/>
<rect x="329" y="627.7" width="3" height="0.6" fill="#858585"/>
<rect x="334" y="628.3" width="3" height="0.6" fill="#ff0000"/>
<rect x="339" y="628.3" width="3" height="0.8" fill="#ff0000"/>
<rect x="344" y="627.3" width="3" height="1.0" fill="#858585"/>
<rect x="349" y="627.6" width="3" height="0.7" fill="#858585"/>
<rect x="354" y="627.7" width="3" height="0.6" fill="#858585"/>
<rect x="358" y="626.8" width="3" height="1.5" fill="#858585"/>
<rect x="363" y="625.3" width="3" height="3.0" fill="#858585"/>
<rect x="368" y="624.1" width="3" height="4.2" fill="#858585"/>
<rect x="373" y="624.8" width="3" height="3.5" fill="#858585"/>
<rect x="378" y="623.5" width="3" height="4.8" fill="#858585"/>
<rect x="383" y="620.6" width="3" height="7.7" fill="#858585"/>
<rect x="388" y="617.5" width="3" height="10.8" fill="#858585"/>
<rect x="392" y="616.3" width="3" height="12.0" fill="#858585"/>
<rect x="397" y="615.9" width="3" height="12.4" fill="#858585"/>
<rect x="402" y="615.2" width="3" height="13.1" fill="#858585"/>
<rect x="407" y="614.9" width="3" height="13.4" fill="#858585"/>
<rect x="412" y="616.1" width="3" height="12.2" fill="#858585"/>
<rect x="417" y="617.6" width="3" height="10.7" fill="#858585"/>
<rect x="422" y="618.4" width="3" height="9.9" fill="#858585"/>
<rect x="427" y="618.7" width="3" height="9.6" fill="#858585"/>
<rect x="431" y="619.1" width="3" height="9.2" fill="#858585"/>
<rect x="436" y="619.4" width="3" height="8.9" fill="#858585"/>
<rect x="441" y="620.1" width="3" height="8.2" fill="#858585"/>
<rect x="446" y="620.8" width="3" height="7.5" fill="#858585"/>
<rect x="451" y="621.8" width="3" height="6.5" fill="#858585"/>
<rect x="456" y="623.7" width="3" height="4.6" fill="#858585"/>
<rect x="461" y="624.3" width="3" height="4.0" fill="#858585"/>
<rect x="465" y="624.3" width="3" height="4.0" fill="#858585"/>
<rect x="470" y="624.7" width="3" height="3.6" fill="#858585"/>
<rect x="475" y="626.2" width="3" height="2.1" fill="#858585"/>
<rect x="480" y="628.3" width="3" height="0.8" fill="#ff0000"/>
<rect x="485" y="628.3" width="3" height="2.8" fill="#ff0000"/>
<rect x="490" y="628.3" width="3" height="2.7" fill="#ff0000"/>
<rect x="495" y="628.3" width="3" height="2.3" fill="#ff0000"/>
<rect x="499" y="628.3" width="3" height="1.1" fill="#ff0000"/>
<rect x="504" y="627.7" width="3" height="0.6" fill="#858585"/>
<rect x="509" y="627.0" width="3" height="1.3" fill="#858585"/>
<rect x="514" y="627.7" width="3" height="0.6" fill="#858585"/>
<rect x="519" y="628.3" width="3" height="2.2" fill="#ff0000"/>
<rect x="524" y="628.3" width="3" height="4.9" fill="#ff0000"/>
<rect x="529" y="628.3" width="3" height="7.1" fill="#ff0000"/>
<rect x="534" y="628.3" width="3" height="9.1" fill="#ff0000"/>
<rect x="538" y="628.3" width="3" height="10.0" fill="#ff0000"/>
<rect x="543" y="628.3" width="3" height="11.2" fill="#ff0000"/>
<rect x="548" y="628.3" width="3" height="12.8" fill="#ff0000"/>
<rect x="553" y="628.3" width="3" height="12.9" fill="#ff0000"/>
<rect x="558" y="628.3" width="3" height="11.7" fill="#ff0000"/>
<rect x="563" y="628.3" width="3" height="10.6" fill="#ff0000"/>
<rect x="568" y="628.3" width="3" height="8.9" fill="#ff0000"/>
<rect x="572" y="628.3" width="3" height="7.4" fill="#ff0000"/>
<rect x="577" y="628.3" width="3" height="5.7" fill="#ff0000"/>
<rect x="582" y="628.3" width="3" height="4.5" fill="#ff0000"/>
<rect x="587" y="628.3" width="3" height="1.0" fill="#ff0000"/>
<rect x="592" y="625.3" width="3" height="3.0" fill="#858585"/>
<rect x="597" y="620.4" width="3" height="7.9" fill="#858585"/>
<rect x="602" y="617.8" width="3" height="10.5" fill="#858585"/>
<rect x="606" y="617.5" width="3" height="10.8" fill="#858585"/>
<rect x="611" y="619.0" width="3" height="9.3" fill="#858585"/>
<rect x="616" y="622.5" width="3" height="5.8" fill="#858585"/>
<rect x="621" y="625.9" width="3" height="2.4" fill="#858585"/>
<rect x="626" y="627.7" width="3" height="0.6" fill="#858585"/>
<rect x="631" y="626.6" width="3" height="1.7" fill="#858585"/>
<rect x="636" y="626.5" width="3" height="1.8" fill="#858585"/>
<rect x="641" y="627.5" width="3" height="0.8" fill="#858585"/>
<rect x="645" y="627.7" width="3" height="0.6" fill="#858585"/>
<rect x="650" y="627.4" width="3" height="0.9" fill="#858585"/>
<rect x="655" y="626.2" width="3" height="2.1" fill="#858585"/>
<rect x="660" y="625.9" width="3" height="2.4" fill="#858585"/>
<rect x="665" y="625.9" width="3" height="2.4" fill="#858585"/>
<rect x="670" y="625.5" width="3" height="2.8" fill="#858585"/>
<rect x="675" y="624.0" width="3" height="4.3" fill="#858585"/>
<rect x="679" y="622.6" width="3" height="5.7" fill="#858585"/>
<rect x="684" y="621.1" width="3" height="7.2" fill="#858585"/>
<rect x="689" y="621.9" width="3" height="6.4" fill="#858585"/>
<rect x="694" y="621.3" width="3" height="7.0" fill="#858585"/>
<rect x="699" y="622.5" width="3" height="5.8" fill="#858585"/>
<rect x="704" y="626.8" width="3" height="1.5" fill="#858585"/>
<rect x="709" y="628.3" width="3" height="3.4" fill="#ff0000"/>
<rect x="714" y="628.3" width="3" height="6.6" fill="#ff0000"/>
<rect x="718" y="628.3" width="3" height="5.9" fill="#ff0000"/>
<rect x="723" y="628.3" width="3" height="4.8" fill="#ff0000"/>
<rect x="728" y="628.3" width="3" height="3.4" fill="#ff0000"/>
<rect x="733" y="628.3" width="3" height="2.5" fill="#ff0000"/>
<rect x="738" y="628.3" width="3" height="1.9" fill="#ff0000"/>
<rect x="743" y="628.3" width="3" height="4.5" fill="#ff0000"/>
<rect x="748" y="628.3" width="3" height="6.3" fill="#ff0000"/>
<rect x="752" y="628.3" width="3" height="5.1" fill="#ff0000"/>
<rect x="757" y="628.3" width="3" height="5.3" fill="#ff0000"/>
<rect x="762" y="628.3" width="3" height="5.2" fill="#ff0000"/>
<rect x="767" y="628.3" width="3" height="4.9" fill="#ff0000"/>
<rect x="772" y="628.3" width="3" height="4.9" fill="#ff0000"/>
<rect x="777" y="628.3" width="3" height="5.4" fill="#ff0000"/>
<rect x="782" y="628.3" width="3" height="6.7" fill="#ff0000"/>
<rect x="786" y="628.3" width="3" height="8.5" fill="#ff0000"/>
<rect x="791" y="628.3" width="3" height="10.5" fill="#ff0000"/>
</g>
<text x="829" y="609" font-size="11" fill="#666666" stroke="#666666" stroke-width="0.25">0.0050</text>
<text x="829" y="632" font-size="11" fill="#666666" stroke="#666666" stroke-width="0.25">0.0000</text>
<text x="829" y="656" font-size="11" fill="#666666" stroke="#666666" stroke-width="0.25">-0.0050</text>
<text x="47.4" y="688" font-size="11" fill="#888888" stroke="#888888" stroke-width="0.35">May</text>
<text x="159.4" y="688" font-size="11" fill="#888888" stroke="#888888" stroke-width="0.35">Jun</text>
<text x="266.4" y="688" font-size="11" fill="#888888" stroke="#888888" stroke-width="0.35">Jul</text>
<text x="368.4" y="688" font-size="11" fill="#888888" stroke="#888888" stroke-width="0.35">Aug</text>
<text x="480.4" y="688" font-size="11" fill="#888888" stroke="#888888" stroke-width="0.35">Sep</text>
<text x="582.4" y="688" font-size="11" fill="#888888" stroke="#888888" stroke-width="0.35">Oct</text>
<text x="689.4" y="688" font-size="11" fill="#888888" stroke="#888888" stroke-width="0.35">Nov</text>
<text x="796.4" y="688" font-size="11" fill="#888888" stroke="#888888" stroke-width="0.35">Dec</text>
</svg></body></html>
